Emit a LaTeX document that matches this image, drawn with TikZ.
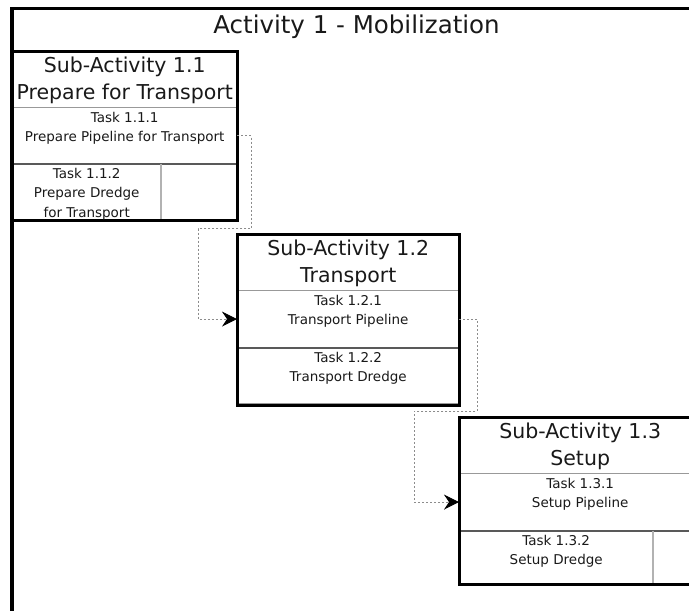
\documentclass[tikz,border=0pt]{standalone}
\usepackage{fontspec}
\setmainfont{DejaVu Sans}
\usetikzlibrary{arrows.meta}
\newcommand\mobtitle{\fontsize{24.5}{29}\selectfont}
\newcommand\mobhead{\fontsize{20.5}{27}\selectfont}
\newcommand\mobtask{\fontsize{13.5}{19.3}\selectfont}
\begin{document}
\begin{tikzpicture}[x=1pt,y=-1pt,
  panel/.style={draw=black, line width=3.5pt},
  subbox/.style={rectangle, inner sep=0pt, anchor=north west},
  cell/.style={rectangle, inner sep=0pt, anchor=north west},
  boxedge/.style={draw=black, line width=3pt},
  titletext/.style={font=\mobtitle, text=black!90, inner sep=0pt, anchor=north},
  headtext/.style={font=\mobhead, text=black!90, align=center, inner sep=0pt, anchor=north},
  tasktext/.style={font=\mobtask, text=black!90, align=center, inner sep=0pt, anchor=north},
  headsep/.style={draw=black!40, line width=1.4pt},
  tasksep/.style={draw=black!65, line width=1.4pt},
  divider/.style={draw=black!30, line width=2pt},
  flow/.style={draw=black!45, line width=0.9pt, dash pattern=on 2pt off 2pt,
    -{Stealth[length=15pt, width=15pt, inset=5pt, color=black]}},
]
\useasboundingbox (0,0) rectangle (689,611);

% the page's right edge, where the activity frame and the last box run off
\coordinate (pageedge) at (689,0);

% activity frame (open to the right and below) and title
\coordinate (actnw) at (12,8.5);
\draw[panel] (actnw) ++(0,602.5) |- (pageedge |- actnw);
\node[titletext] (acttitle) at ([yshift=-6pt]actnw -| 356.5,0) {Activity 1 - Mobilization};

% sub-activity 1.1
\node[subbox, minimum width=225pt, minimum height=169pt] (s1) at (12,51) {};
\node[cell, minimum width=225pt, minimum height=56pt] (h1) at (s1.north west) {};
\node[cell, minimum width=225pt, minimum height=56pt] (t111) at (h1.south west) {};
\node[cell, minimum width=149pt, minimum height=57pt] (t112) at (t111.south west) {};
\draw[headsep] (h1.south west) -- (h1.south east);
\draw[tasksep] (t111.south west) -- (t111.south east);
\draw[divider] (t112.north east) -- (t112.south east);
\draw[boxedge] (s1.north west) rectangle (s1.south east);
\node[headtext] (h1txt) at ([yshift=-5.4pt]h1.north) {Sub-Activity 1.1\\Prepare for Transport};
\node[tasktext] (t111txt) at ([yshift=-4.4pt]t111.north) {Task 1.1.1\\Prepare Pipeline for Transport};
\node[tasktext] (t112txt) at ([yshift=-4.4pt]t112.north) {Task 1.1.2\\Prepare Dredge\\for Transport};

% sub-activity 1.2
\node[subbox, minimum width=222pt, minimum height=171pt] (s2) at (237,234) {};
\node[cell, minimum width=222pt, minimum height=56pt] (h2) at (s2.north west) {};
\node[cell, minimum width=222pt, minimum height=57pt] (t121) at (h2.south west) {};
\node[cell, minimum width=222pt, minimum height=55pt] (t122) at (t121.south west) {};
\draw[headsep] (h2.south west) -- (h2.south east);
\draw[tasksep] (t121.south west) -- (t121.south east);
\draw[headsep] (t122.south west) -- (t122.south east);
\draw[boxedge] (s2.north west) rectangle (s2.south east);
\node[headtext] (h2txt) at ([yshift=-5.4pt]h2.north) {Sub-Activity 1.2\\Transport};
\node[tasktext] (t121txt) at ([yshift=-4.4pt]t121.north) {Task 1.2.1\\Transport Pipeline};
\node[tasktext] (t122txt) at ([yshift=-4.4pt]t122.north) {Task 1.2.2\\Transport Dredge};

% sub-activity 1.3 (runs off the right edge)
\node[subbox, minimum width=242pt, minimum height=167pt] (s3) at (459,417) {};
\node[cell, minimum width=242pt, minimum height=56pt] (h3) at (s3.north west) {};
\node[cell, minimum width=242pt, minimum height=57pt] (t131) at (h3.south west) {};
\node[cell, minimum width=194pt, minimum height=54pt] (t132) at (t131.south west) {};
\draw[headsep] (h3.south west) -- (h3.south west -| pageedge);
\draw[tasksep] (t131.south west) -- (t131.south west -| pageedge);
\draw[divider] (t132.north east) -- (t132.south east);
\draw[boxedge] (s3.north west -| pageedge) -- (s3.north west) -- (s3.south west) -- (s3.south west -| pageedge);
\node[headtext] (h3txt) at ([yshift=-5.4pt]h3.north) {Sub-Activity 1.3\\Setup};
\node[tasktext] (t131txt) at ([yshift=-4.4pt]t131.north) {Task 1.3.1\\Setup Pipeline};
\node[tasktext] (t132txt) at ([yshift=-4.4pt]t132.north) {Task 1.3.2\\Setup Dredge};

% sequence links between tasks
\draw[flow] (t111.east) -- ++(14,0) -- ++(0,93) -- ++(-53,0) |- (t121.west);
\draw[flow] (t121.east) -- ++(18,0) -- ++(0,92) -- ++(-63,0) |- (t131.west);
\end{tikzpicture}
\end{document}
